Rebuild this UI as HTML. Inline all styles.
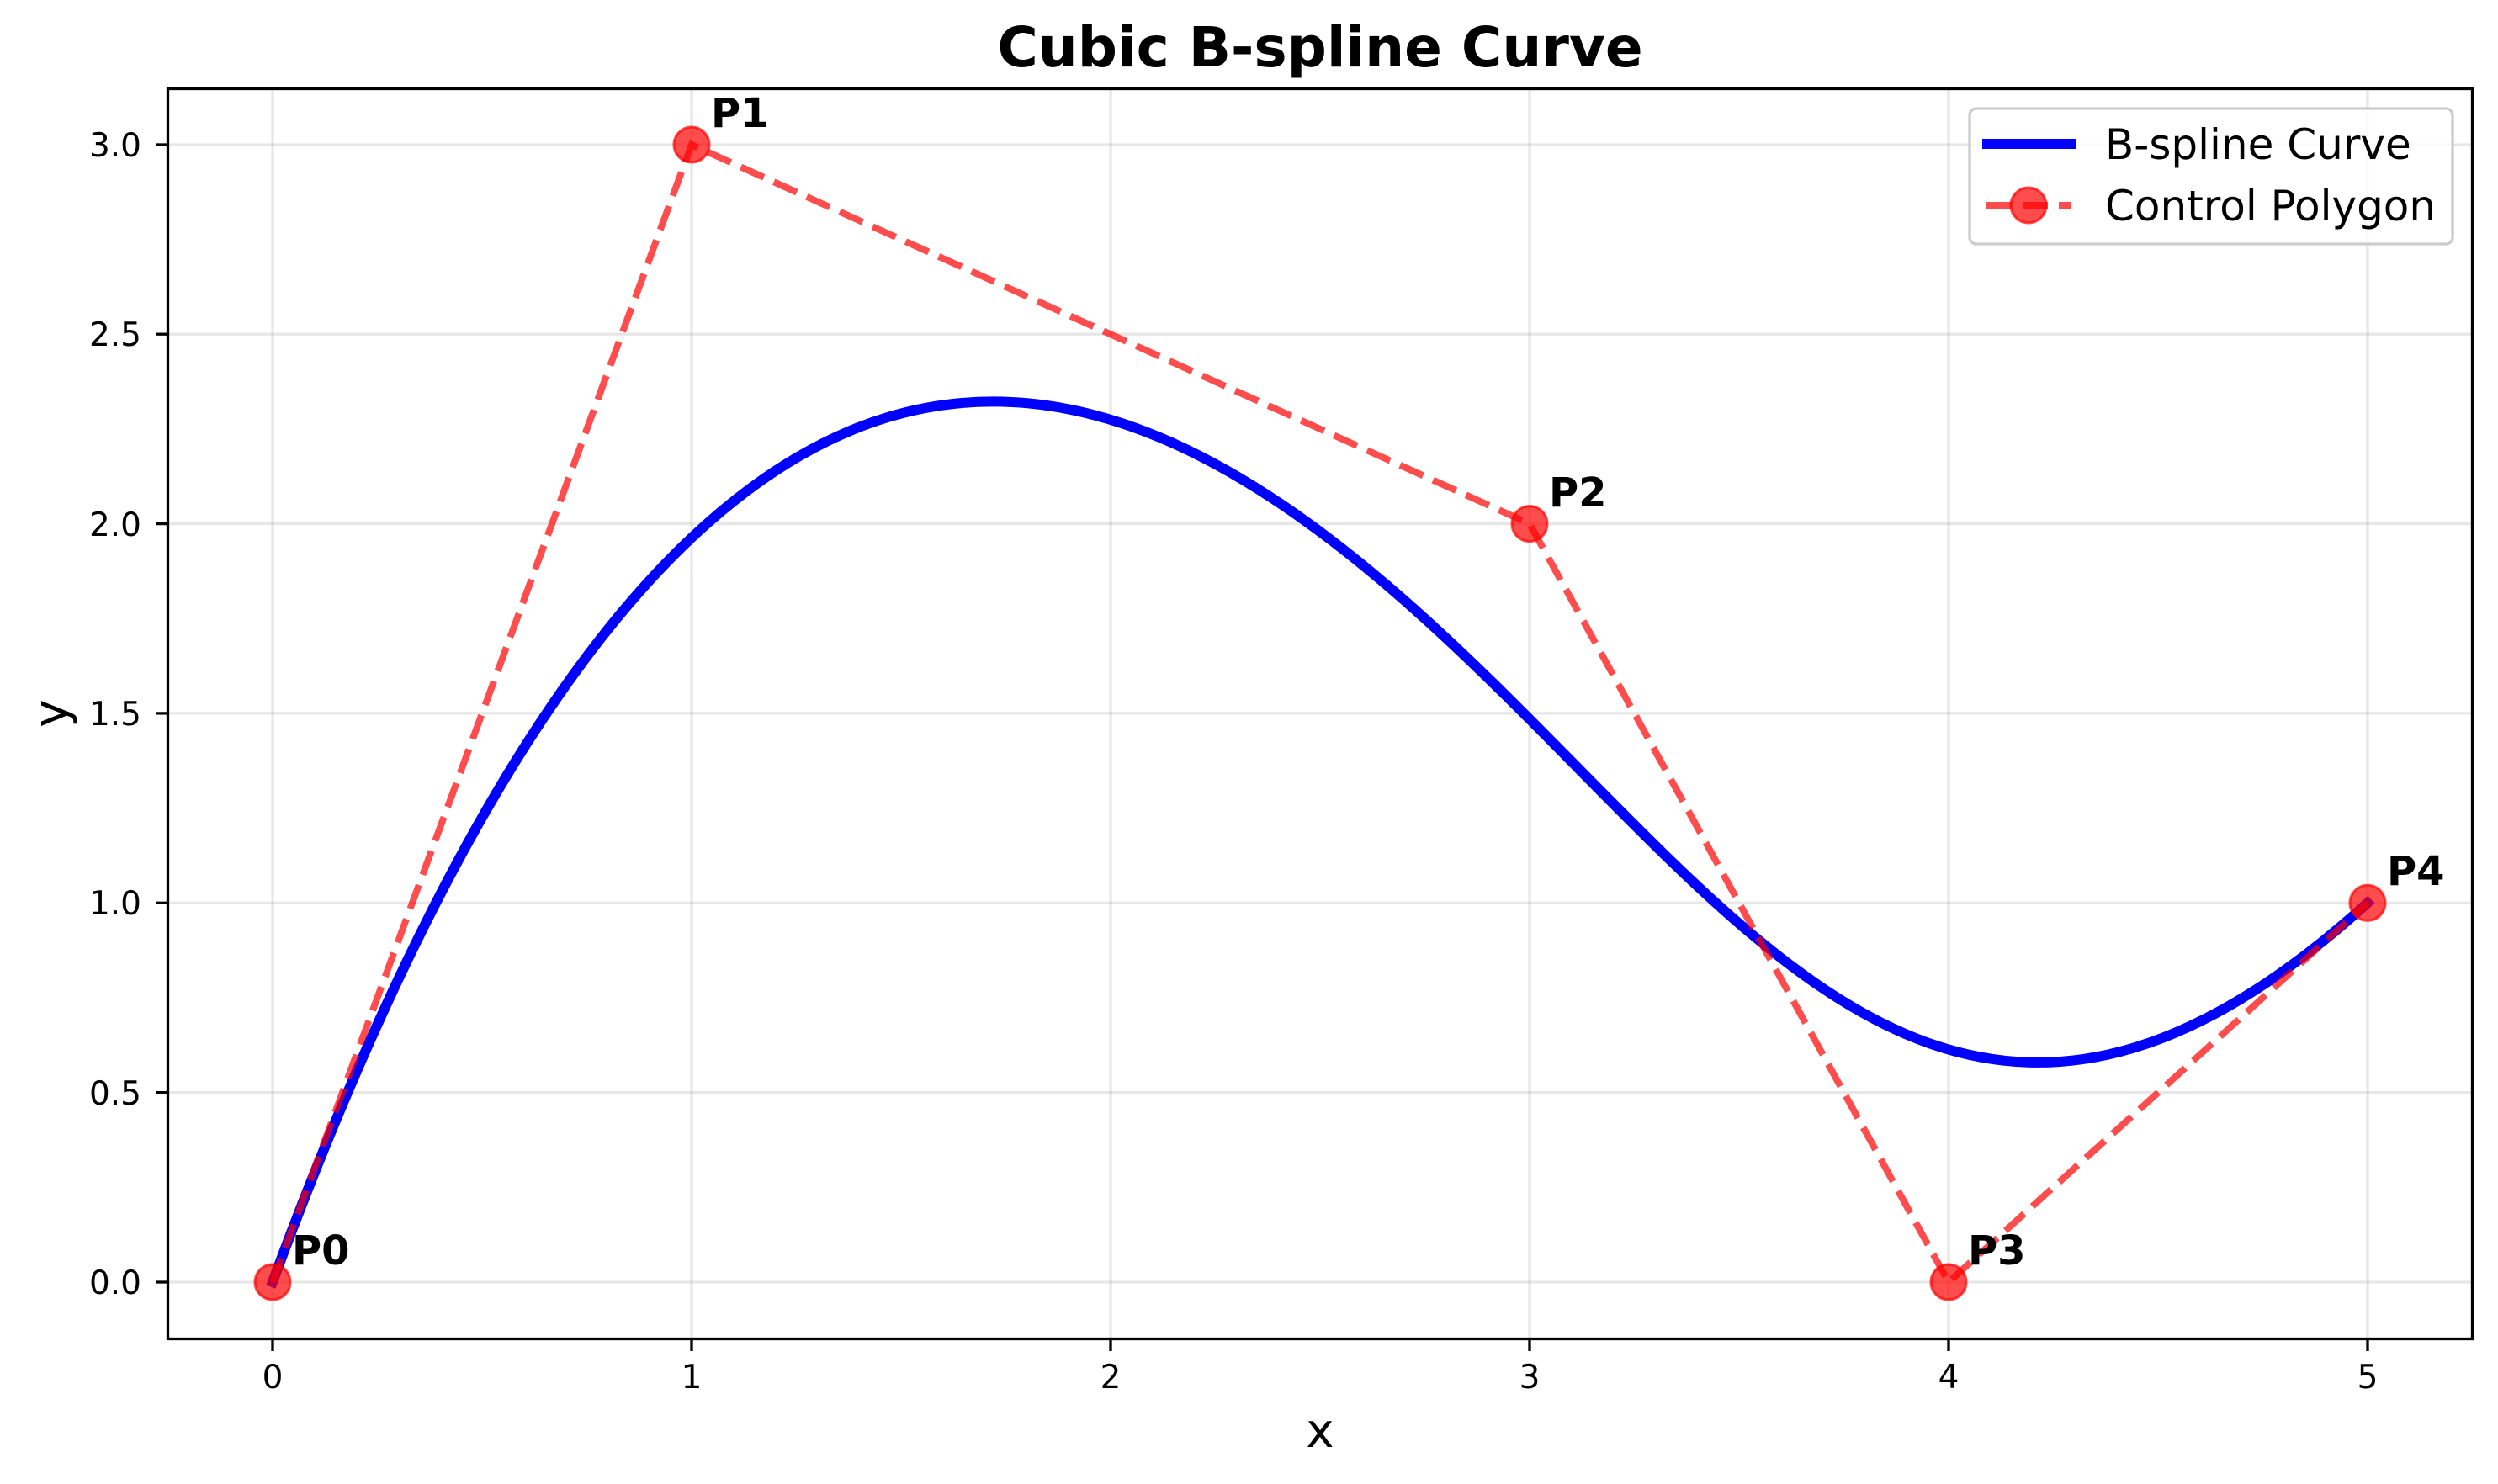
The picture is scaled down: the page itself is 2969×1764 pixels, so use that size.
<!DOCTYPE html>
<html><head><meta charset="utf-8"><style>
html,body{margin:0;padding:0;background:#fff;}
svg{display:block;font-family:"DejaVu Sans","Liberation Sans",sans-serif;}
</style></head><body>
<svg width="2969" height="1764" viewBox="0 0 2969 1764" xmlns="http://www.w3.org/2000/svg">
<rect width="2969" height="1764" fill="#fff"/>
<g stroke="#b0b0b0" stroke-opacity="0.3" stroke-width="3.3">
<line x1="324" y1="105" x2="324" y2="1592"/>
<line x1="822" y1="105" x2="822" y2="1592"/>
<line x1="1320" y1="105" x2="1320" y2="1592"/>
<line x1="1818" y1="105" x2="1818" y2="1592"/>
<line x1="2316" y1="105" x2="2316" y2="1592"/>
<line x1="2814" y1="105" x2="2814" y2="1592"/>
<line x1="199" y1="1524" x2="2939" y2="1524"/>
<line x1="199" y1="1298.6" x2="2939" y2="1298.6"/>
<line x1="199" y1="1073.3" x2="2939" y2="1073.3"/>
<line x1="199" y1="847.9" x2="2939" y2="847.9"/>
<line x1="199" y1="622.6" x2="2939" y2="622.6"/>
<line x1="199" y1="397.2" x2="2939" y2="397.2"/>
<line x1="199" y1="172" x2="2939" y2="172"/>
</g>
<path d="M324,1524 C822,172 1320,397.25 1693.5,735.3 C2067,1073.3 2316,1524 2814,1073.3" fill="none" stroke="#0000ff" stroke-width="12" stroke-linecap="square"/>
<polyline points="324,1524 822,172 1818,622.6 2316,1524 2814,1073.3" fill="none" stroke="#ff0000" stroke-opacity="0.7" stroke-width="8" stroke-dasharray="30,13"/>
<g fill="#ff0000" fill-opacity="0.7" stroke="#ff0000" stroke-opacity="0.7" stroke-width="3">
<circle cx="324" cy="1524" r="21"/>
<circle cx="822" cy="172" r="21"/>
<circle cx="1818" cy="622.6" r="21"/>
<circle cx="2316" cy="1524" r="21"/>
<circle cx="2814" cy="1073.3" r="21"/>
</g>
<g font-size="48" font-weight="bold" fill="#000">
<text x="347" y="1503">P0</text>
<text x="845" y="151">P1</text>
<text x="1841" y="602">P2</text>
<text x="2339" y="1503">P3</text>
<text x="2837" y="1052">P4</text>
</g>
<rect x="199.5" y="105.5" width="2739" height="1486" fill="none" stroke="#000" stroke-width="3.3"/>
<g stroke="#000" stroke-width="3.3">
<line x1="324" y1="1592" x2="324" y2="1606"/>
<line x1="822" y1="1592" x2="822" y2="1606"/>
<line x1="1320" y1="1592" x2="1320" y2="1606"/>
<line x1="1818" y1="1592" x2="1818" y2="1606"/>
<line x1="2316" y1="1592" x2="2316" y2="1606"/>
<line x1="2814" y1="1592" x2="2814" y2="1606"/>
<line x1="185" y1="1524" x2="199" y2="1524"/>
<line x1="185" y1="1298.6" x2="199" y2="1298.6"/>
<line x1="185" y1="1073.3" x2="199" y2="1073.3"/>
<line x1="185" y1="847.9" x2="199" y2="847.9"/>
<line x1="185" y1="622.6" x2="199" y2="622.6"/>
<line x1="185" y1="397.2" x2="199" y2="397.2"/>
<line x1="185" y1="172" x2="199" y2="172"/>
</g>
<g font-size="39" fill="#000" text-anchor="middle">
<text x="324" y="1650">0</text>
<text x="822" y="1650">1</text>
<text x="1320" y="1650">2</text>
<text x="1818" y="1650">3</text>
<text x="2316" y="1650">4</text>
<text x="2814" y="1650">5</text>
</g>
<g font-size="39" fill="#000" text-anchor="end">
<text x="168" y="1538">0.0</text>
<text x="168" y="1313">0.5</text>
<text x="168" y="1087">1.0</text>
<text x="168" y="862">1.5</text>
<text x="168" y="637">2.0</text>
<text x="168" y="411">2.5</text>
<text x="168" y="186">3.0</text>
</g>
<text x="1569" y="1720" font-size="56" text-anchor="middle">x</text>
<text x="0" y="0" font-size="56" text-anchor="middle" transform="translate(80,848) rotate(-90)">y</text>
<text x="1569" y="79" font-size="66" font-weight="bold" text-anchor="middle">Cubic B-spline Curve</text>
<rect x="2341" y="129" width="574" height="161" rx="8" fill="#fff" fill-opacity="0.8" stroke="#cccccc" stroke-width="3.3"/>
<line x1="2356" y1="171" x2="2467" y2="171" stroke="#0000ff" stroke-width="12"/>
<line x1="2361" y1="244" x2="2461" y2="244" stroke="#ff0000" stroke-opacity="0.7" stroke-width="8" stroke-dasharray="30,13"/>
<circle cx="2411" cy="244" r="21" fill="#ff0000" fill-opacity="0.7" stroke="#ff0000" stroke-opacity="0.7" stroke-width="3"/>
<g font-size="50" fill="#000">
<text x="2502" y="189">B-spline Curve</text>
<text x="2502" y="262">Control Polygon</text>
</g>
</svg>
</body></html>
